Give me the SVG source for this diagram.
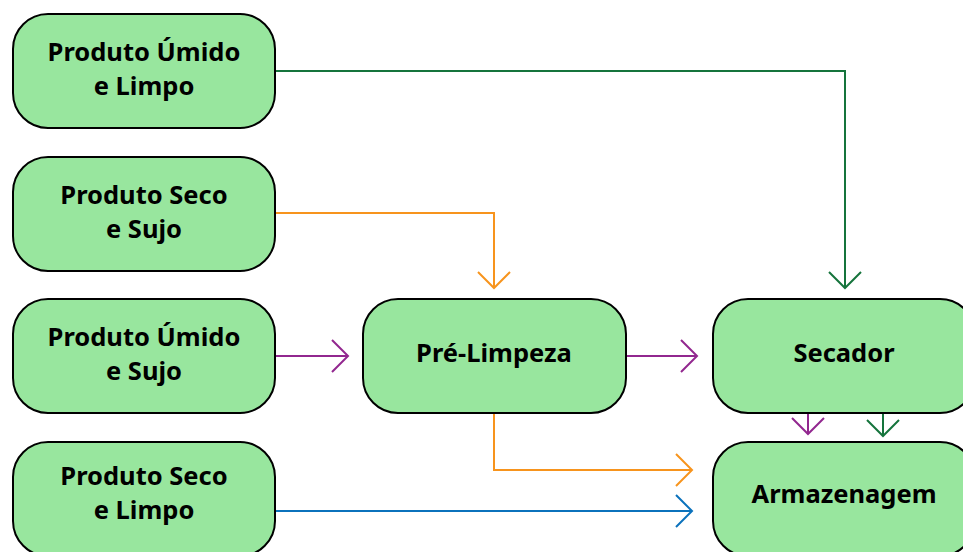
<svg xmlns="http://www.w3.org/2000/svg" width="963" height="552" viewBox="0 0 963 552">
<style>
.box{fill:#98e69e;stroke:#000;stroke-width:2}
.t{font-family:"Noto Sans","Open Sans","Liberation Sans",sans-serif;font-weight:700;font-size:25.5px;fill:#000;text-anchor:middle}
.c{fill:none;stroke-width:2}
.g{stroke:#15743c}
.o{stroke:#f7941d}
.p{stroke:#92278f}
.b{stroke:#0b72bc}
</style>
<rect width="963" height="552" fill="#fff"/>
<g id="connectors">
<path class="c g" d="M275,71 H845 V288 M829,272 L845,288 L861,272"/>
<path class="c o" d="M275,213 H494 V288 M478,272 L494,288 L510,272"/>
<path class="c p" d="M275,356 H348 M332,340 L348,356 L332,372"/>
<path class="c p" d="M626,356 H697 M681,340 L697,356 L681,372"/>
<path class="c o" d="M494,413 V470 H692 M676,454 L692,470 L676,486"/>
<path class="c b" d="M275,511 H692 M676,495 L692,511 L676,527"/>
<path class="c p" d="M808,413 V434 M792,418 L808,434 L824,418"/>
<path class="c g" d="M883,413 V436 M867,420 L883,436 L899,420"/>
</g>
<g id="n1"><rect class="box" x="13" y="14" width="262" height="114" rx="35"/><text class="t" x="144" y="61">Produto Úmido</text><text class="t" x="144" y="95">e Limpo</text></g>
<g id="n2"><rect class="box" x="13" y="157" width="262" height="114" rx="35"/><text class="t" x="144" y="204">Produto Seco</text><text class="t" x="144" y="238">e Sujo</text></g>
<g id="n3"><rect class="box" x="13" y="299" width="262" height="114" rx="35"/><text class="t" x="144" y="346">Produto Úmido</text><text class="t" x="144" y="380">e Sujo</text></g>
<g id="n4"><rect class="box" x="13" y="442" width="262" height="114" rx="35"/><text class="t" x="144" y="485">Produto Seco</text><text class="t" x="144" y="519">e Limpo</text></g>
<g id="n5"><rect class="box" x="363" y="299" width="263" height="114" rx="35"/><text class="t" x="494" y="362">Pré-Limpeza</text></g>
<g id="n6"><rect class="box" x="713" y="299" width="262" height="114" rx="35"/><text class="t" x="844" y="362">Secador</text></g>
<g id="n7"><rect class="box" x="713" y="442" width="262" height="114" rx="35"/><text class="t" x="844" y="503">Armazenagem</text></g>
</svg>
